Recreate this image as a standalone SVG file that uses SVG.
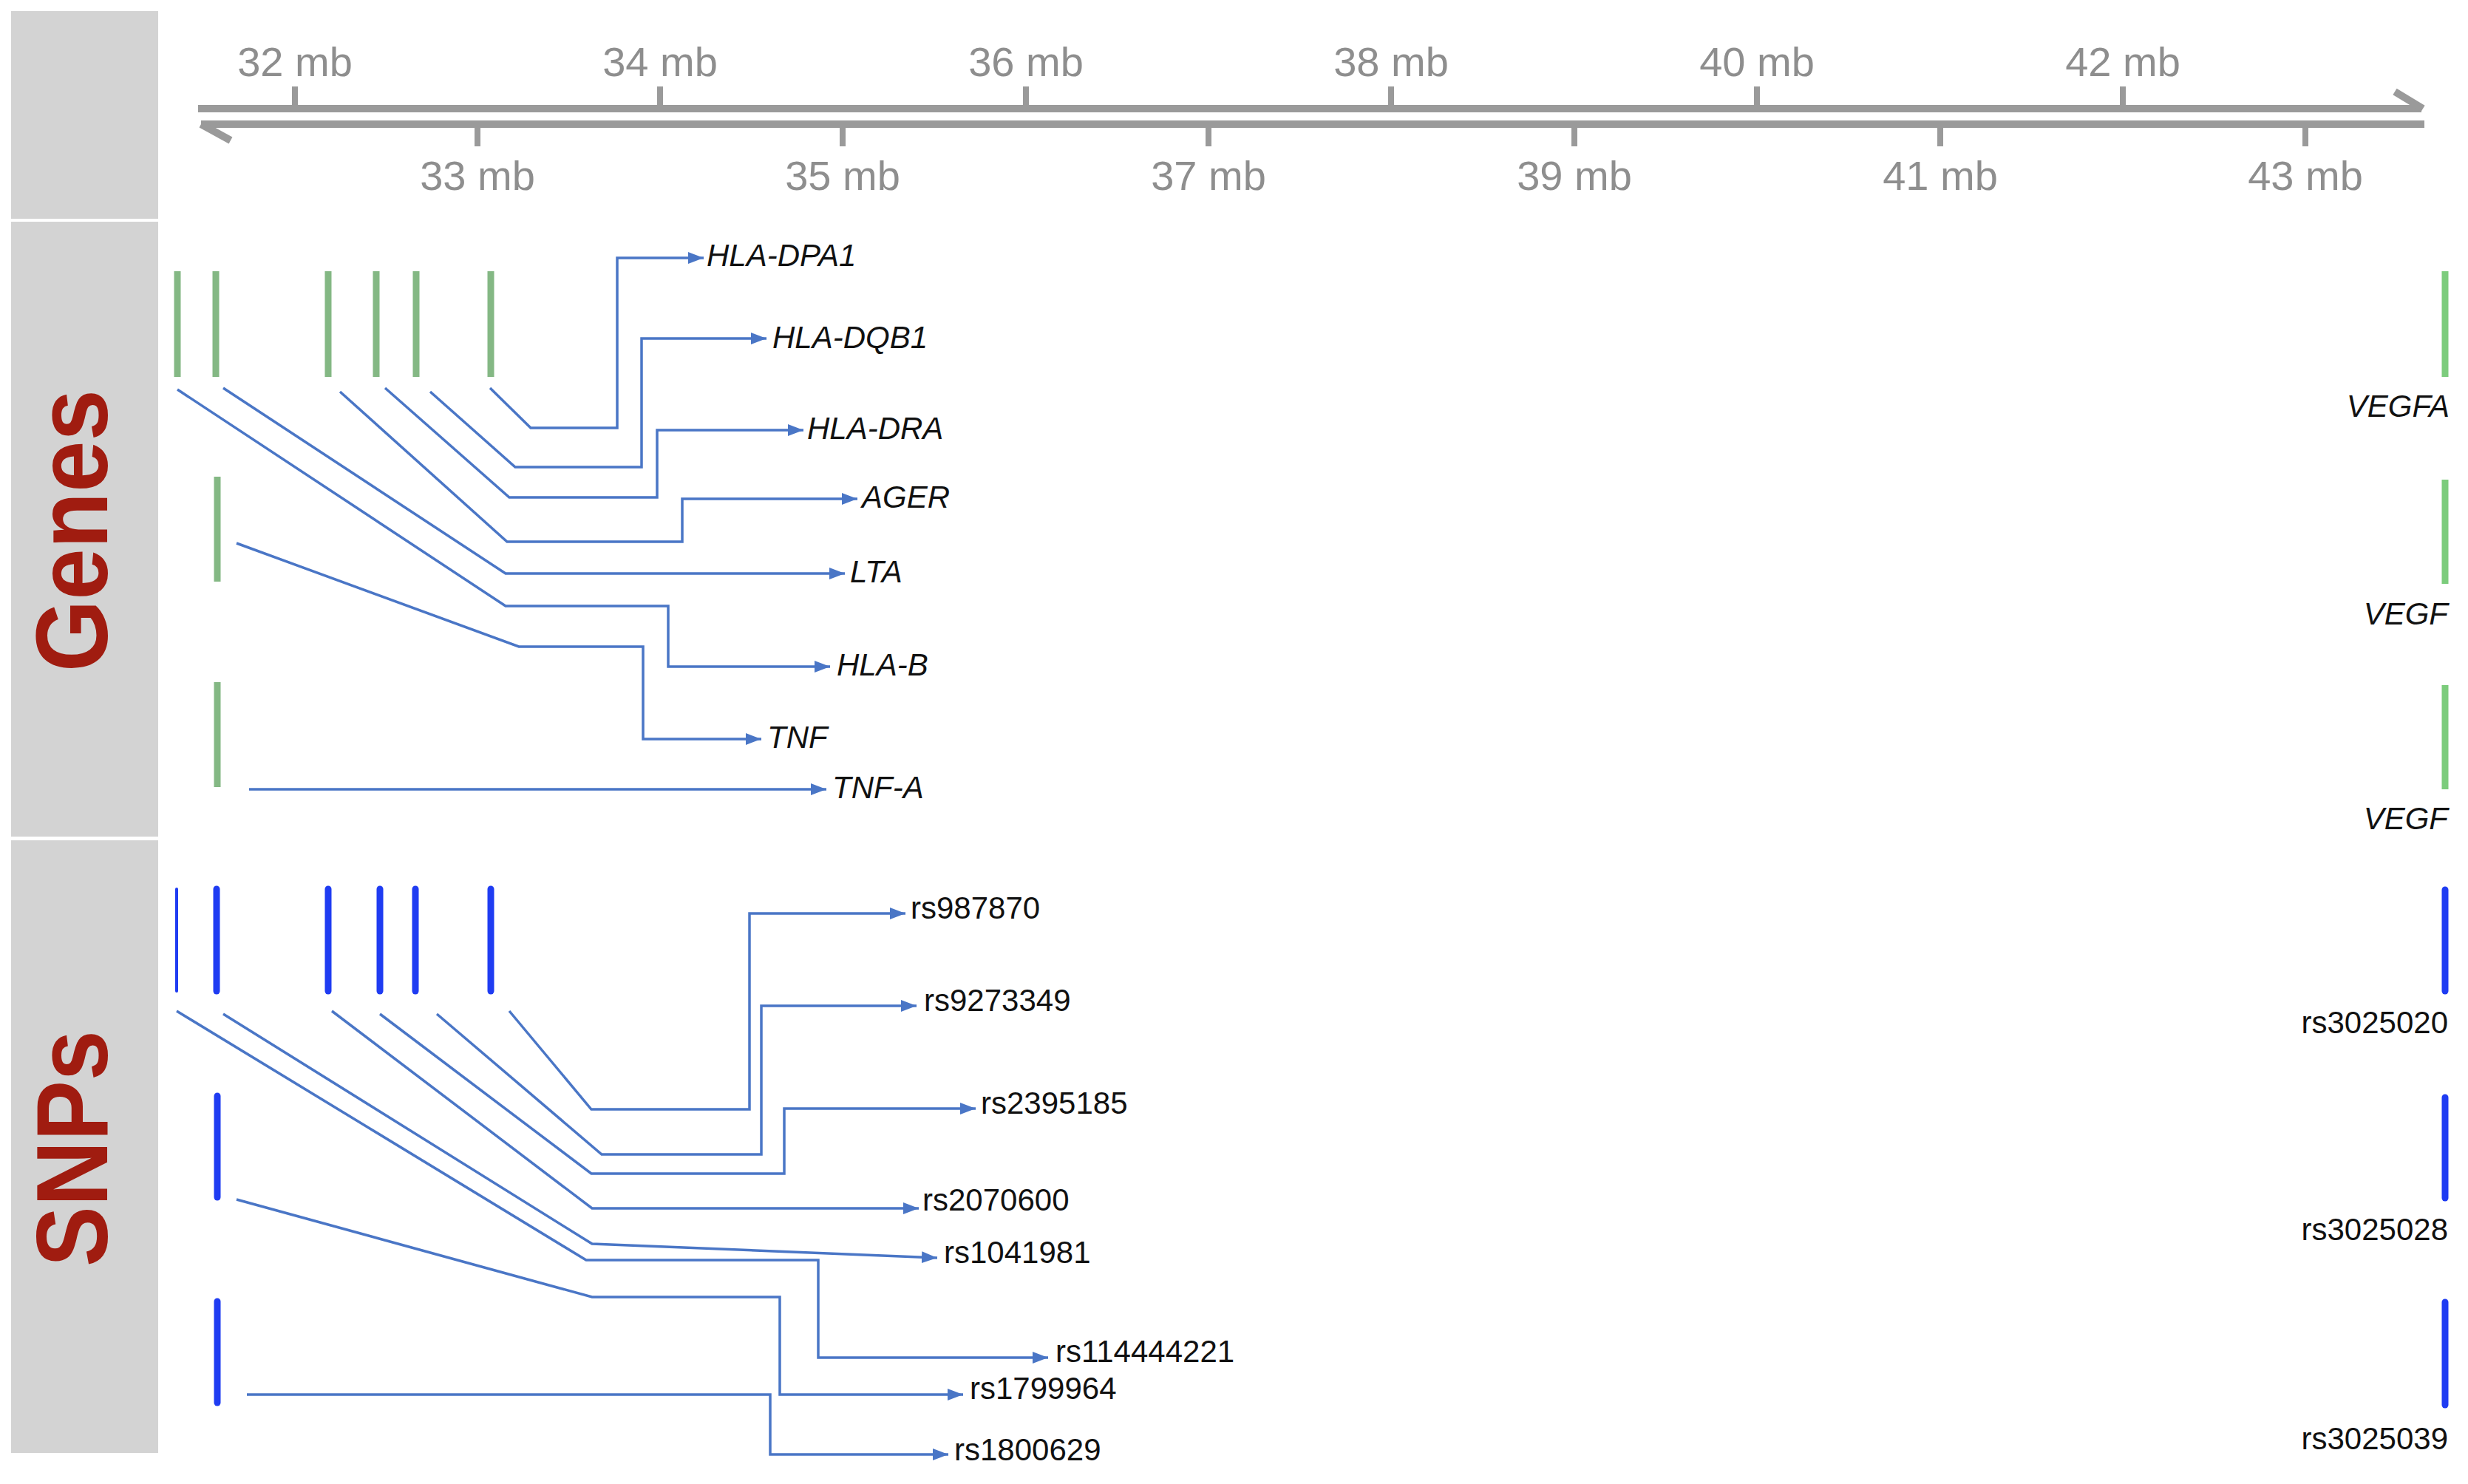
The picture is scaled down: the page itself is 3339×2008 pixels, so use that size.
<svg xmlns="http://www.w3.org/2000/svg" width="3339" height="2008" viewBox="0 0 3339 2008">
<style>
.panel{fill:#d3d3d3}
.side{font-family:"Liberation Sans",Arial,sans-serif;font-weight:bold;fill:#a01c10}
.axis{stroke:#9a9a9a;stroke-width:10;fill:none}
.tick{stroke:#9a9a9a;stroke-width:8}
.mb{font-family:"Liberation Sans",Arial,sans-serif;font-size:56px;fill:#8e8e8e;text-anchor:middle}
.gbar{stroke:#84b884;stroke-width:9;stroke-linecap:butt}
.gbarR{stroke:#7ccc7c;stroke-width:9}
.sbar{stroke:#1f3cf2;stroke-width:9;stroke-linecap:round}
.gene{font-family:"Liberation Sans",Arial,sans-serif;font-style:italic;font-size:42px;fill:#111}
.snp{font-family:"Liberation Sans",Arial,sans-serif;font-size:42px;fill:#111}
.conn{stroke:#4a76c6;stroke-width:3.5;fill:none;marker-end:url(#arr)}
</style>
<defs>
<marker id="arr" markerUnits="userSpaceOnUse" markerWidth="24" markerHeight="18" refX="21" refY="8" orient="auto">
<path d="M0,0 L21,8 L0,16 z" fill="#4a76c6"/>
</marker>
</defs>
<rect width="3339" height="2008" fill="#fff"/>

<g id="panels">
<rect class="panel" x="15" y="15" width="199" height="281"/>
<rect class="panel" x="15" y="300" width="199" height="832"/>
<rect class="panel" x="15" y="1137" width="199" height="829"/>
<text class="side" font-size="138" text-anchor="middle" textLength="382" lengthAdjust="spacingAndGlyphs" transform="translate(145,718) rotate(-90)">Genes</text>
<text class="side" font-size="138" text-anchor="middle" textLength="320" lengthAdjust="spacingAndGlyphs" transform="translate(145,1554) rotate(-90)">SNPs</text>
</g>

<g id="axis">
<path class="axis" d="M268,147 H3276"/>
<path class="axis" d="M3240,124 L3278,147"/>
<path class="axis" d="M3280,168 H272"/>
<path class="axis" d="M272,168 L312,190"/>
<line class="tick" x1="399" y1="117" x2="399" y2="147"/>
<line class="tick" x1="893" y1="117" x2="893" y2="147"/>
<line class="tick" x1="1388" y1="117" x2="1388" y2="147"/>
<line class="tick" x1="1882" y1="117" x2="1882" y2="147"/>
<line class="tick" x1="2377" y1="117" x2="2377" y2="147"/>
<line class="tick" x1="2872" y1="117" x2="2872" y2="147"/>
<line class="tick" x1="646" y1="168" x2="646" y2="198"/>
<line class="tick" x1="1140" y1="168" x2="1140" y2="198"/>
<line class="tick" x1="1635" y1="168" x2="1635" y2="198"/>
<line class="tick" x1="2130" y1="168" x2="2130" y2="198"/>
<line class="tick" x1="2625" y1="168" x2="2625" y2="198"/>
<line class="tick" x1="3119" y1="168" x2="3119" y2="198"/>
<text class="mb" x="399" y="103">32 mb</text>
<text class="mb" x="893" y="103">34 mb</text>
<text class="mb" x="1388" y="103">36 mb</text>
<text class="mb" x="1882" y="103">38 mb</text>
<text class="mb" x="2377" y="103">40 mb</text>
<text class="mb" x="2872" y="103">42 mb</text>
<text class="mb" x="646" y="257">33 mb</text>
<text class="mb" x="1140" y="257">35 mb</text>
<text class="mb" x="1635" y="257">37 mb</text>
<text class="mb" x="2130" y="257">39 mb</text>
<text class="mb" x="2625" y="257">41 mb</text>
<text class="mb" x="3119" y="257">43 mb</text>
</g>

<g id="gene-bars">
<line class="gbar" x1="240" y1="367" x2="240" y2="510"/>
<line class="gbar" x1="292" y1="367" x2="292" y2="510"/>
<line class="gbar" x1="444" y1="367" x2="444" y2="510"/>
<line class="gbar" x1="509" y1="367" x2="509" y2="510"/>
<line class="gbar" x1="563" y1="367" x2="563" y2="510"/>
<line class="gbar" x1="664" y1="367" x2="664" y2="510"/>
<line class="gbar" x1="294" y1="645" x2="294" y2="787"/>
<line class="gbar" x1="294" y1="923" x2="294" y2="1065"/>
</g>

<g id="node-HLA-DPA1"><text class="gene" x="956" y="360">HLA-DPA1</text></g>
<g id="node-HLA-DQB1"><text class="gene" x="1045" y="471">HLA-DQB1</text></g>
<g id="node-HLA-DRA"><text class="gene" x="1092" y="594">HLA-DRA</text></g>
<g id="node-AGER"><text class="gene" x="1166" y="687">AGER</text></g>
<g id="node-LTA"><text class="gene" x="1150" y="788">LTA</text></g>
<g id="node-HLA-B"><text class="gene" x="1132" y="914">HLA-B</text></g>
<g id="node-TNF"><text class="gene" x="1038" y="1012">TNF</text></g>
<g id="node-TNF-A"><text class="gene" x="1126" y="1080">TNF-A</text></g>

<g id="node-VEGFA"><line class="gbarR" x1="3308" y1="367" x2="3308" y2="510"/><text class="gene" x="3314" y="564" text-anchor="end">VEGFA</text></g>
<g id="node-VEGF-1"><line class="gbarR" x1="3308" y1="649" x2="3308" y2="790"/><text class="gene" x="3312" y="845" text-anchor="end">VEGF</text></g>
<g id="node-VEGF-2"><line class="gbarR" x1="3308" y1="927" x2="3308" y2="1068"/><text class="gene" x="3312" y="1122" text-anchor="end">VEGF</text></g>

<g id="snp-bars">
<line class="sbar" x1="239" y1="1203" x2="239" y2="1341" style="stroke-width:4"/>
<line class="sbar" x1="293" y1="1203" x2="293" y2="1341"/>
<line class="sbar" x1="444" y1="1203" x2="444" y2="1341"/>
<line class="sbar" x1="514" y1="1203" x2="514" y2="1341"/>
<line class="sbar" x1="562" y1="1203" x2="562" y2="1341"/>
<line class="sbar" x1="664" y1="1203" x2="664" y2="1341"/>
<line class="sbar" x1="294" y1="1483" x2="294" y2="1620"/>
<line class="sbar" x1="294" y1="1761" x2="294" y2="1898"/>
</g>

<g id="node-rs987870"><text class="snp" x="1232" y="1243">rs987870</text></g>
<g id="node-rs9273349"><text class="snp" x="1250" y="1368">rs9273349</text></g>
<g id="node-rs2395185"><text class="snp" x="1327" y="1507">rs2395185</text></g>
<g id="node-rs2070600"><text class="snp" x="1248" y="1638">rs2070600</text></g>
<g id="node-rs1041981"><text class="snp" x="1277" y="1709">rs1041981</text></g>
<g id="node-rs114444221"><text class="snp" x="1428" y="1843">rs114444221</text></g>
<g id="node-rs1799964"><text class="snp" x="1312" y="1893">rs1799964</text></g>
<g id="node-rs1800629"><text class="snp" x="1291" y="1976">rs1800629</text></g>

<g id="node-rs3025020"><line class="sbar" x1="3308" y1="1204" x2="3308" y2="1341"/><text class="snp" x="3312" y="1398" text-anchor="end">rs3025020</text></g>
<g id="node-rs3025028"><line class="sbar" x1="3308" y1="1485" x2="3308" y2="1621"/><text class="snp" x="3312" y="1678" text-anchor="end">rs3025028</text></g>
<g id="node-rs3025039"><line class="sbar" x1="3308" y1="1762" x2="3308" y2="1901"/><text class="snp" x="3312" y="1961" text-anchor="end">rs3025039</text></g>

<g id="connectors">
<path class="conn" d="M663,525 L718,579 H835 V349 H952"/>
<path class="conn" d="M582,530 L697,632 H868 V458 H1037"/>
<path class="conn" d="M521,525 L689,673 H889 V582 H1087"/>
<path class="conn" d="M460,530 L686,733 H923 V675 H1160"/>
<path class="conn" d="M302,525 L684,776 H1143"/>
<path class="conn" d="M240,527 L684,820 H904 V902 H1123"/>
<path class="conn" d="M320,735 L702,875 H870 V1000 H1030"/>
<path class="conn" d="M337,1068 H1118"/>

<path class="conn" d="M689,1368 L800,1501 H1014 V1236 H1225"/>
<path class="conn" d="M591,1372 L814,1562 H1030 V1361 H1240"/>
<path class="conn" d="M514,1372 L800,1588 H1061 V1500 H1320"/>
<path class="conn" d="M449,1368 L801,1635 H1243"/>
<path class="conn" d="M302,1372 L801,1683 L1268,1702"/>
<path class="conn" d="M239,1368 L793,1705 H1107 V1837 H1418"/>
<path class="conn" d="M320,1623 L801,1755 H1055 V1887 H1303"/>
<path class="conn" d="M334,1887 H1042 V1968 H1283"/>
</g>
</svg>
